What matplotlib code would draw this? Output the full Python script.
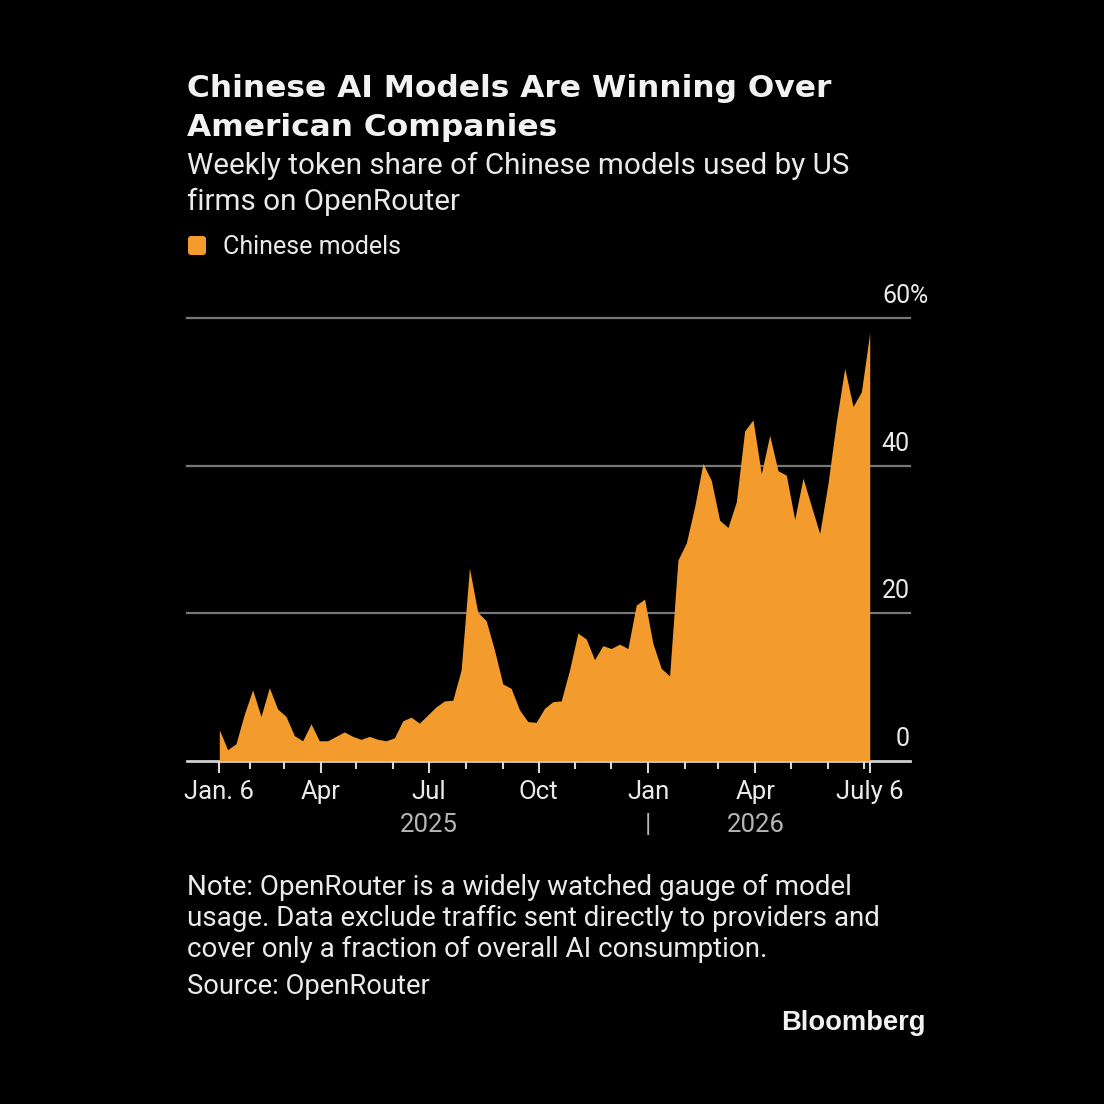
import numpy as np
import matplotlib
matplotlib.use("Agg")
import matplotlib.pyplot as plt
import matplotlib.dates as mdates
import matplotlib.transforms as mtransforms
from matplotlib.patches import FancyBboxPatch
import datetime as dt

# ---------------- data ----------------
start_date = "2025-01-06"
share = [4.2, 1.5, 2.3, 6.3, 9.6, 6.0, 9.9, 7.0, 6.0, 3.4,
         2.7, 5.0, 2.7, 2.7, 3.3, 3.9, 3.3, 2.9, 3.3, 2.9,
         2.7, 3.1, 5.4, 5.9, 5.1, 6.2, 7.3, 8.1, 8.2, 12.3,
         26.1, 20.1, 19.0, 15.0, 10.4, 9.8, 6.9, 5.3, 5.2, 7.1,
         8.0, 8.1, 12.3, 17.3, 16.5, 13.7, 15.6, 15.2, 15.8, 15.2,
         21.1, 21.9, 15.9, 12.5, 11.5, 27.2, 29.5, 34.4, 40.3, 38.0,
         32.6, 31.6, 35.1, 44.7, 46.2, 38.9, 44.1, 39.3, 38.7, 32.7,
         38.3, 34.5, 30.8, 37.6, 46.0, 53.2, 48.0, 50.0, 58.0]
series_name = "Chinese models"
y_ticks = [0, 20, 40, 60]
y_tick_labels = ["0", "20", "40", "60"]
x_major_dates = ["2025-01-06", "2025-04-01", "2025-07-01", "2025-10-01",
                 "2026-01-01", "2026-04-01", "2026-07-06"]
x_major_labels = ["Jan. 6", "Apr", "Jul", "Oct", "Jan", "Apr", "July 6"]
x_minor_dates = ["2025-02-01", "2025-03-01", "2025-05-01", "2025-06-01",
                 "2025-08-01", "2025-09-01", "2025-11-01", "2025-12-01",
                 "2026-02-01", "2026-03-01", "2026-05-01", "2026-06-01",
                 "2026-07-01"]
year_labels = [("2025-07-01", "2025"), ("2026-01-01", "|"), ("2026-04-01", "2026")]

title_lines = ["Chinese AI Models Are Winning Over", "American Companies"]
subtitle_lines = ["Weekly token share of Chinese models used by US",
                  "firms on OpenRouter"]
note_lines = ["Note: OpenRouter is a widely watched gauge of model",
              "usage. Data exclude traffic sent directly to providers and",
              "cover only a fraction of overall AI consumption."]
source = "Source: OpenRouter"
brand = "Bloomberg"

# ---------------- style ----------------
W = H = 1104
BG = "#000000"
ORANGE = "#F39B2C"
TXT = "#EAEAEA"
GRID = "#777777"
BODY = ["Roboto", "DejaVu Sans"]
BOLD = ["DejaVu Sans", "Liberation Sans"]

plt.rcParams["font.family"] = BODY

def fx(x):
    return x / W

def fy(y):
    return 1 - y / H

d0 = np.datetime64(start_date)
dates = d0 + np.arange(len(share)) * np.timedelta64(7, "D")
xd = mdates.date2num(dates.astype("datetime64[D]").astype(dt.datetime))

def dn(s):
    return mdates.date2num(dt.datetime.fromisoformat(s))

fig = plt.figure(figsize=(W / 100, H / 100), dpi=100, facecolor=BG)
ax = fig.add_axes([fx(187), fy(760.7), fx(910) - fx(187), (760.7 - 318) / H])
ax.set_facecolor(BG)

x_left = dn(start_date) - 27.1
x_right = dn("2026-07-06") + 33.8
ax.set_xlim(x_left, x_right)
ax.set_ylim(0, 60)

for s in ax.spines.values():
    s.set_visible(False)

# gridlines
for yv in y_ticks[1:]:
    ax.axhline(yv, color=GRID, lw=1.6, zorder=1, clip_on=False)
ax.axhline(0, color="#CFCFCF", lw=2.0, zorder=1, clip_on=False)

ax.fill_between(xd, 0, share, color=ORANGE, lw=0, zorder=2)

# y labels above gridlines, right aligned
yoff = mtransforms.offset_copy(ax.get_yaxis_transform(), fig=fig, x=0, y=22, units="dots")
for yv, lab in zip(y_ticks, y_tick_labels):
    ax.text(1.0, yv, lab, transform=yoff, ha="right", va="center",
            color=TXT, fontsize=18)
ax.text(1.0, 60, "%", transform=yoff, ha="left", va="center", color=TXT, fontsize=18)
ax.set_yticks([])

# x ticks
ax.set_xticks([dn(d) for d in x_major_dates])
ax.set_xticklabels(x_major_labels)
ax.set_xticks([dn(d) for d in x_minor_dates], minor=True)
ax.tick_params(axis="x", which="major", length=8.6, width=1.5, color="#D8D8D8",
               labelcolor=TXT, labelsize=18.5, pad=5)
ax.tick_params(axis="x", which="minor", length=5.8, width=1.5, color="#D8D8D8")

ytr = mtransforms.blended_transform_factory(ax.transData, fig.transFigure)
for d, lab in year_labels:
    ax.text(dn(d), fy(832), lab, transform=ytr, ha="center", va="baseline",
            color="#B5B5B5", fontsize=18.5)

# header
for i, line in enumerate(title_lines):
    fig.text(fx(187), fy(97 + 39.5 * i), line, family=BOLD,
             fontweight="bold", fontsize=22.5, color="#F2F2F2", va="baseline", ha="left")
for i, line in enumerate(subtitle_lines):
    fig.text(fx(187), fy(174 + 36 * i), line,
             fontsize=21.3, color=TXT, va="baseline", ha="left")

# legend
fig.patches.append(FancyBboxPatch((fx(188), fy(255)), fx(18), 19 / H,
                                  boxstyle="round,pad=0,rounding_size=0.003",
                                  transform=fig.transFigure, facecolor=ORANGE,
                                  edgecolor="none"))
fig.text(fx(223), fy(254), series_name, fontsize=18, color=TXT,
         va="baseline", ha="left")

# notes
for i, line in enumerate(note_lines):
    fig.text(fx(187), fy(895 + 31 * i), line, fontsize=20, color=TXT,
             va="baseline", ha="left")
fig.text(fx(187), fy(994), source, fontsize=19.7, color=TXT, va="baseline", ha="left")
fig.text(fx(926), fy(1030), brand, family=["Liberation Sans", "DejaVu Sans"],
         fontweight="bold", fontsize=19.7, color="#F2F2F2", va="baseline", ha="right")

fig.savefig("out.png", dpi=100, facecolor=BG)
